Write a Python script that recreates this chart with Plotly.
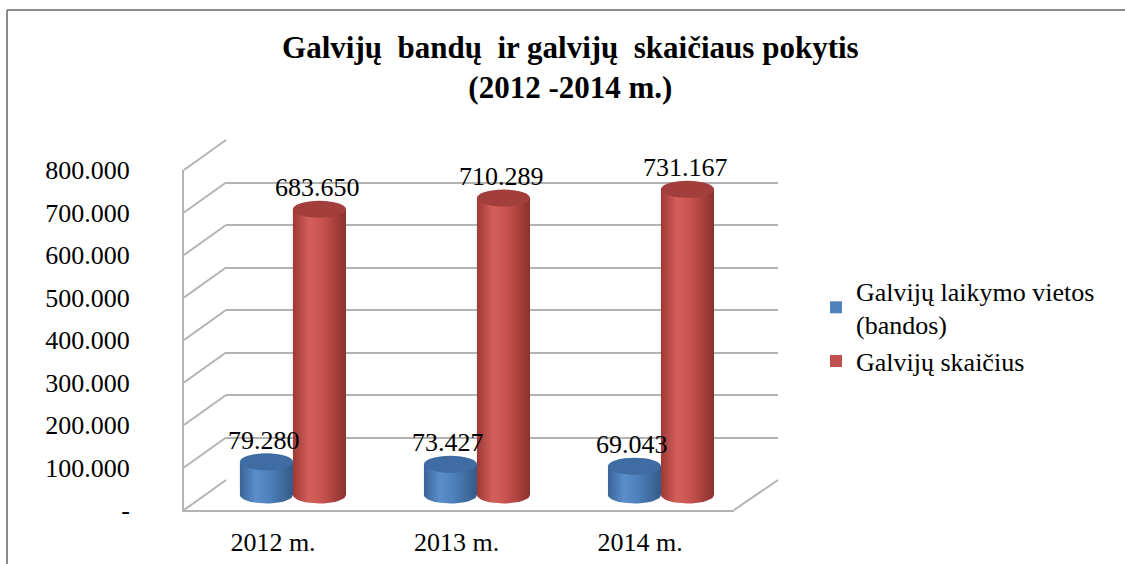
import math
import plotly.graph_objects as go

# ---------------- data ----------------
categories = ["2012 m.", "2013 m.", "2014 m."]
series_names = ["Galvijų laikymo vietos<br>(bandos)", "Galvijų skaičius"]
bandos = [79280, 73427, 69043]
galvijai = [683650, 710289, 731167]
y_tick_vals = [0, 100000, 200000, 300000, 400000, 500000, 600000, 700000, 800000]
y_tick_text = ["-", "100.000", "200.000", "300.000", "400.000", "500.000", "600.000", "700.000", "800.000"]
title_text = "<b>Galvijų  bandų  ir galvijų  skaičiaus pokytis<br>(2012 -2014 m.)</b>"

W, H = 1125, 564
FONT = "Liberation Serif"
YMAX = 800000
YPAD = 40000  # room below zero for the rounded cylinder bottoms

def px(x):
    return x / W

def py(y):
    return 1 - y / H

front_x = (184, 734)
front_y = (510, 170)
back_x = (226, 778)
back_y = (480, 140)
bar_x = (184, 778)
bar_zero, bar_top = 495, 160.6  # pixel rows of 0 and YMAX in the bar plane
bar_scale = (bar_zero - bar_top) / YMAX

fy_dom = [py(front_y[0]), py(front_y[1])]
by_dom = [py(back_y[0]), py(back_y[1])]
bary_dom = [py(bar_zero + YPAD * bar_scale), py(bar_top)]

grid_col = "#B3B3B3"
blue, blue_top = "#4F81BD", "#3E6CA3"
red, red_top = "#C0504D", "#A23F3C"
blue_scale = [[0, "#3A6498"], [0.3, "#5A8ECB"], [0.55, "#4F81BD"], [1, "#345A88"]]
red_scale = [[0, "#9C3936"], [0.3, "#D45F5B"], [0.55, "#C8534F"], [1, "#8C302D"]]

bw = 0.288
fig = go.Figure()
fig.add_trace(go.Scatter(x=[0, 1], y=[0, 0], xaxis="x", yaxis="y", mode="lines",
                         line=dict(width=0), showlegend=False, hoverinfo="skip"))
fig.add_trace(go.Scatter(x=[0, 1], y=[0, 0], xaxis="x2", yaxis="y2", mode="lines",
                         line=dict(width=0), showlegend=False, hoverinfo="skip"))

series = [(bandos, blue, blue_top, blue_scale, -bw), (galvijai, red, red_top, red_scale, 0.0)]
xs = list(range(len(categories)))
for (vals, col, topcol, cscale, off), name in zip(series, series_names):
    fig.add_trace(go.Bar(
        x=xs, y=vals, name=name, xaxis="x3", yaxis="y3",
        width=bw, offset=off, marker=dict(color=col, line=dict(width=0)),
        hoverinfo="y",
    ))

eh = 17 / bar_scale  # ellipse height in data units
shapes = []
annotations = []
for vals, col, topcol, cscale, off in series:
    for i, v in enumerate(vals):
        x0, x1 = i + off, i + off + bw
        xc, rx = (x0 + x1) / 2, (x1 - x0) / 2
        # shaded cylinder body with rounded bottom, laid over the bar
        arc = [k / 20 * math.pi for k in range(21)]
        bx = [x0, x1] + [xc + rx * math.cos(t) for t in arc]
        by = [v, v] + [-(eh / 2) * math.sin(t) for t in arc]
        fig.add_trace(go.Scatter(x=bx, y=by, xaxis="x3", yaxis="y3", mode="lines",
                                 line=dict(width=0), fill="toself", fillcolor=col,
                                 fillgradient=dict(type="horizontal", colorscale=cscale),
                                 showlegend=False, hoverinfo="skip"))
        shapes.append(dict(type="circle", xref="x3", yref="y3", x0=x0, x1=x1,
                           y0=v - eh / 2, y1=v + eh / 2, fillcolor=topcol, line=dict(width=0), layer="above"))
        annotations.append(dict(x=xc, y=v, xref="x3", yref="y3",
                                text=f"{v:,}".replace(",", "."), showarrow=False,
                                yanchor="bottom", yshift=5, xshift=-2,
                                font=dict(family=FONT, size=26, color="black")))

for v in y_tick_vals:
    yf = fy_dom[0] + v / YMAX * (fy_dom[1] - fy_dom[0])
    yb = by_dom[0] + v / YMAX * (by_dom[1] - by_dom[0])
    shapes.append(dict(type="line", xref="paper", yref="paper", x0=px(front_x[0]), y0=yf,
                       x1=px(back_x[0]), y1=yb, line=dict(color=grid_col, width=2), layer="below"))
shapes.append(dict(type="line", xref="paper", yref="paper", x0=px(front_x[1]), y0=fy_dom[0],
                   x1=px(back_x[1]), y1=by_dom[0], line=dict(color=grid_col, width=2), layer="below"))
# outer chart border (top and left edges visible)
shapes.append(dict(type="line", xref="paper", yref="paper", x0=px(7), y0=py(10), x1=1, y1=py(10),
                   line=dict(color="#8C8C8C", width=2), layer="below"))
shapes.append(dict(type="line", xref="paper", yref="paper", x0=px(7), y0=py(10), x1=px(7), y1=0,
                   line=dict(color="#8C8C8C", width=2), layer="below"))

fig.update_layout(
    width=W, height=H, autosize=False,
    margin=dict(l=0, r=0, t=0, b=0, autoexpand=False),
    paper_bgcolor="white", plot_bgcolor="rgba(0,0,0,0)",
    font=dict(family=FONT, size=26, color="black"),
    title=dict(text=title_text, x=0.507, xanchor="center", y=py(58), yanchor="top",
               automargin=False, font=dict(family=FONT, size=31, color="black")),
    showlegend=True,
    legend=dict(x=px(816), y=py(267), xanchor="left", yanchor="top",
                font=dict(family=FONT, size=26, color="black"),
                bgcolor="rgba(0,0,0,0)", tracegroupgap=2),
    xaxis=dict(domain=[px(front_x[0]), px(front_x[1])], range=[-0.485, 2.512],
               tickvals=xs, ticktext=categories, showgrid=False, zeroline=False,
               showline=True, linecolor=grid_col, linewidth=2, ticks="",
               ticklabelstandoff=8, anchor="y", fixedrange=True, automargin=False,
               tickfont=dict(family=FONT, size=26)),
    yaxis=dict(domain=fy_dom, range=[0, YMAX], tickvals=y_tick_vals, ticktext=y_tick_text,
               showgrid=False, zeroline=False, showline=True, linecolor=grid_col, linewidth=2,
               ticks="", ticklabelstandoff=47, anchor="x", fixedrange=True, automargin=False,
               tickfont=dict(family=FONT, size=26)),
    xaxis2=dict(domain=[px(back_x[0]), px(back_x[1])], range=[0, 1], visible=False,
                anchor="y2", fixedrange=True, automargin=False),
    yaxis2=dict(domain=by_dom, range=[0, YMAX], tickvals=y_tick_vals, showgrid=True,
                gridcolor=grid_col, gridwidth=2, showticklabels=False, zeroline=False,
                showline=False, ticks="", anchor="x2", fixedrange=True, automargin=False),
    xaxis3=dict(domain=[px(bar_x[0]), px(bar_x[1])], range=[-0.592, 2.636], visible=False,
                anchor="y3", fixedrange=True, automargin=False),
    yaxis3=dict(domain=bary_dom, range=[-YPAD, YMAX], visible=False, anchor="x3",
                fixedrange=True, automargin=False),
    barmode="overlay",
    shapes=shapes,
    annotations=annotations,
)

fig.write_html(
    "out.html",
    config={"displayModeBar": False},
    post_script="document.body.style.margin='0';document.body.style.overflow='hidden';",
)
